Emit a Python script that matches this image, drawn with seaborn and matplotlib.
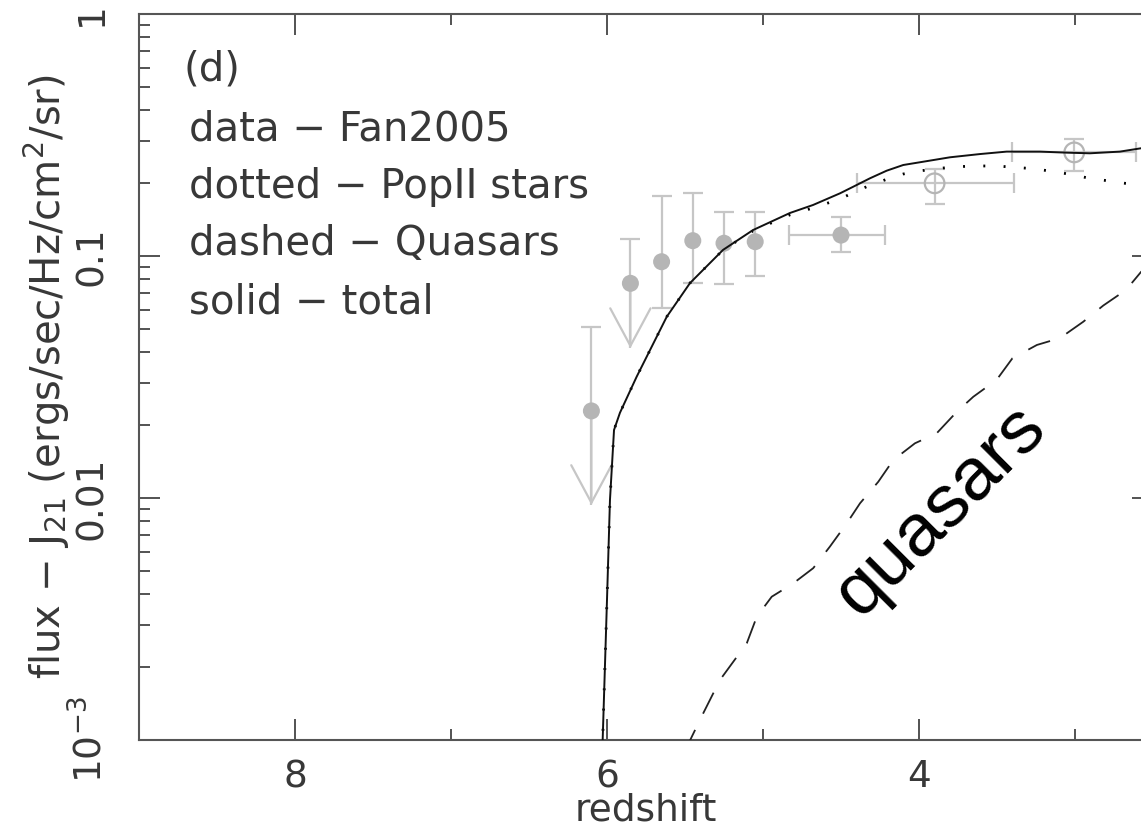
import numpy as np
import pandas as pd
import matplotlib
matplotlib.use("Agg")
import matplotlib.pyplot as plt
import seaborn as sns
from matplotlib.ticker import MultipleLocator, LogLocator, NullFormatter

# ---------------- data ----------------
# model curves (redshift, J21)
total_z = [6.03, 6.00, 5.981, 5.955, 5.917, 5.81, 5.617, 5.468, 5.256, 5.064, 4.827, 4.679,
           4.506, 4.421, 4.314, 4.207, 4.101, 3.972, 3.801, 3.609, 3.438, 3.224, 3.053,
           2.904, 2.712, 2.577, 2.50]
total_j = [0.0009, 0.0038, 0.0098, 0.0191, 0.0225, 0.0317, 0.0561, 0.0773, 0.106, 0.128, 0.1506,
           0.1625, 0.1816, 0.1934, 0.2095, 0.2252, 0.2377, 0.2453, 0.2558, 0.2638, 0.270, 0.270,
           0.2673, 0.2657, 0.270, 0.2787, 0.284]

pop2_z = [6.03, 6.00, 5.981, 5.955, 5.917, 5.81, 5.617, 5.468, 5.256, 5.064, 4.827, 4.679,
          4.506, 4.431, 4.325, 4.207, 4.101, 3.983, 3.865, 3.748, 3.630, 3.502, 3.385, 3.267,
          3.149, 3.032, 2.915, 2.797, 2.679, 2.577, 2.50]
pop2_j = [0.0009, 0.0038, 0.0098, 0.0191, 0.0225, 0.0317, 0.0561, 0.0773, 0.106, 0.127, 0.148,
          0.158, 0.172, 0.1816, 0.1947, 0.2075, 0.2182, 0.2252, 0.2304, 0.234, 0.2355, 0.2355,
          0.2325, 0.2294, 0.2239, 0.2176, 0.210, 0.2048, 0.1997, 0.1977, 0.196]

qso_z = [5.50, 5.457, 5.383, 5.276, 5.104, 5.040, 4.944, 4.806, 4.678, 4.571, 4.463, 4.378,
         4.261, 4.165, 4.026, 3.887, 3.758, 3.652, 3.502, 3.401, 3.244, 3.096, 2.947, 2.819,
         2.673, 2.577, 2.50]
qso_j = [0.00090, 0.00103, 0.00129, 0.00177, 0.00251, 0.00323, 0.00391, 0.00444, 0.00513,
         0.00630, 0.00786, 0.00951, 0.01167, 0.01435, 0.01683, 0.0185, 0.0227, 0.0262, 0.0308,
         0.0378, 0.0429, 0.0458, 0.0535, 0.0624, 0.0724, 0.0859, 0.095]

# Fan 2005 data, filled symbols
fan_z = [6.10, 5.85, 5.65, 5.45, 5.25, 5.05, 4.50]
fan_j = [0.0229, 0.0771, 0.0947, 0.1157, 0.1129, 0.1146, 0.122]
fan_j_hi = [0.051, 0.118, 0.1775, 0.1816, 0.1525, 0.1516, 0.1445]
fan_j_lo = [0.00935, 0.0416, 0.0611, 0.0771, 0.0766, 0.0827, 0.104]
fan_limit = [True, True, False, False, False, False, False]
fan_z_hi = [np.nan, np.nan, np.nan, np.nan, np.nan, np.nan, 4.783]
fan_z_lo = [np.nan, np.nan, np.nan, np.nan, np.nan, np.nan, 4.165]

# open symbols
open_z = [3.90, 3.005]
open_j = [0.1997, 0.268]
open_j_hi = [0.228, 0.305]
open_j_lo = [0.164, 0.2245]
open_z_hi = [4.41, 3.40]
open_z_lo = [3.40, 2.605]

ytick_vals = [1e-3, 1e-2, 1e-1, 1]
ytick_labels = [r"$10^{-3}$", "0.01", "0.1", "1"]
legend_lines = ["data − Fan2005", "dotted − PopII stars", "dashed − Quasars", "solid − total"]

# ---------------- style ----------------
sns.set_theme(style="ticks")
plt.rcParams["font.family"] = ["DejaVu Sans"]
plt.rcParams["mathtext.fontset"] = "dejavusans"

TXT = "#383838"
GRAY_PT = "#b5b5b5"
GRAY_ERR = "#c6c6c6"
FS = 27
FS_TXT = 29

fig = plt.figure(figsize=(11.41, 8.30), dpi=100)
ax = fig.add_axes([139 / 1141, 1 - 740 / 830, (1153 - 139) / 1141, 726 / 830])
ax.set_yscale("log")
ax.set_xlim(9, 2.5)
ax.set_ylim(1e-3, 1)

fan = pd.DataFrame(dict(z=fan_z, j=fan_j, hi=fan_j_hi, lo=fan_j_lo, lim=fan_limit,
                        zhi=fan_z_hi, zlo=fan_z_lo))
opn = pd.DataFrame(dict(z=open_z, j=open_j, hi=open_j_hi, lo=open_j_lo, zhi=open_z_hi, zlo=open_z_lo))

eb_kw = dict(fmt="none", ecolor=GRAY_ERR, elinewidth=1.6, capsize=7.2, capthick=1.6, zorder=2)

# upper-limit points: bar down to arrow tip, no lower cap, V arrow head
lim = fan[fan.lim]
cont = ax.errorbar(lim.z, lim.j, yerr=[lim.j - lim.lo, lim.hi - lim.j], **eb_kw)
cont.lines[1][0].remove()
for _, r in lim.iterrows():
    ax.annotate("", xy=(r.z, r.lo), xytext=(r.z, r.j),
                arrowprops=dict(arrowstyle="->,head_length=2.7,head_width=1.45",
                                color=GRAY_ERR, lw=1.6, shrinkA=0, shrinkB=0,
                                mutation_scale=10), zorder=2)

# normal points (vertical errors only)
nrm = fan[~fan.lim & fan.zhi.isna()]
ax.errorbar(nrm.z, nrm.j, yerr=[nrm.j - nrm.lo, nrm.hi - nrm.j], **eb_kw)
# points with redshift range
wid = fan[~fan.lim & fan.zhi.notna()]
ax.errorbar(wid.z, wid.j, yerr=[wid.j - wid.lo, wid.hi - wid.j],
            xerr=[wid.zhi - wid.z, wid.z - wid.zlo], **eb_kw)
ax.errorbar(opn.z, opn.j, yerr=[opn.j - opn.lo, opn.hi - opn.j],
            xerr=[opn.zhi - opn.z, opn.z - opn.zlo], **eb_kw)

sns.scatterplot(data=fan, x="z", y="j", ax=ax, s=150, color=GRAY_PT, edgecolor="none",
                zorder=3, legend=False)
sns.scatterplot(data=opn, x="z", y="j", ax=ax, s=200, facecolors="none", edgecolor=GRAY_PT,
                linewidth=1.6, zorder=3, legend=False)

# model curves
sns.lineplot(x=pop2_z, y=pop2_j, ax=ax, color="black", lw=2.0, linestyle=(0, (0.7, 6.6)),
             estimator=None, sort=False, zorder=4)
sns.lineplot(x=qso_z, y=qso_j, ax=ax, color="#222222", lw=1.3, linestyle=(0, (13, 10)),
             estimator=None, sort=False, zorder=4)
sns.lineplot(x=total_z, y=total_j, ax=ax, color="#111111", lw=1.4,
             estimator=None, sort=False, zorder=5)

ax.set_xlim(9, 2.5)
ax.set_ylim(1e-3, 1)

# ---------------- axes ----------------
ax.xaxis.set_major_locator(MultipleLocator(2))
ax.xaxis.set_minor_locator(MultipleLocator(1))
ax.set_yticks(ytick_vals, labels=ytick_labels, rotation=90, va="center")
ax.yaxis.set_minor_locator(LogLocator(base=10, subs=np.arange(2, 10)))
ax.yaxis.set_minor_formatter(NullFormatter())

ax.tick_params(which="both", direction="in", top=True, right=True, color="#444444",
               labelcolor=TXT, width=1.3)
ax.tick_params(which="major", length=15)
ax.tick_params(which="minor", length=8)
ax.tick_params(axis="x", pad=14, labelsize=FS)
ax.tick_params(axis="y", pad=21, labelsize=FS)
for sp in ax.spines.values():
    sp.set_color("#555555")
    sp.set_linewidth(1.5)

ax.set_xlabel("redshift", fontsize=FS, color=TXT)
ax.xaxis.set_label_coords(0.5, -0.073)
ax.set_ylabel(r"flux $-$ J$_{21}$ (ergs/sec/Hz/cm$^2$/sr)", fontsize=FS_TXT, color=TXT)
ax.yaxis.set_label_coords(-0.066, 0.5)

# annotations
ax.text(0.0434, 0.909, "(d)", transform=ax.transAxes, fontsize=FS_TXT, color=TXT, va="baseline")
for i, s in enumerate(legend_lines):
    ax.text(0.0493, 0.8264 - i * 0.0795, s, transform=ax.transAxes, fontsize=FS_TXT, color=TXT,
            va="baseline")
ax.text(0.791, 0.317, "quasars", transform=ax.transAxes, fontsize=54, color="black",
        family="Liberation Sans", rotation=45, ha="center", va="center",
        rotation_mode="anchor")

fig.savefig("out.png", dpi=100)
